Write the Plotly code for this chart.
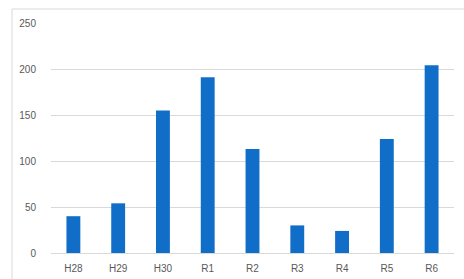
import plotly.graph_objects as go

categories = ["H28", "H29", "H30", "R1", "R2", "R3", "R4", "R5", "R6"]
values = [40, 54, 155, 191, 113, 30, 24, 124, 204]
y_ticks = [0, 50, 100, 150, 200, 250]

fig = go.Figure(go.Bar(x=categories, y=values, marker=dict(color="#116EC8", line=dict(width=0))))

fig.update_layout(
    width=464, height=279,
    margin=dict(l=51, r=10, t=23, b=26),
    paper_bgcolor="white", plot_bgcolor="white",
    bargap=0.69,
    showlegend=False,
    font=dict(family="Liberation Sans", size=10, color="#595959"),
    xaxis=dict(showgrid=False, showline=True, linecolor="#d9d9d9", linewidth=1, ticks="",
               automargin=False, tickfont=dict(size=10, color="#595959"), ticklabelstandoff=6),
    yaxis=dict(range=[0, 250], tickvals=y_ticks, showgrid=True, gridcolor="#d9d9d9", gridwidth=1,
               automargin=False, zeroline=False, showline=False, ticks="", ticklabelstandoff=14,
               tickfont=dict(size=10, color="#595959")),
    shapes=[dict(type="rect", xref="paper", yref="paper", x0=(12 - 51) / 403, x1=1.2,
                 y0=-0.3, y1=1 + (23 - 9) / 230, line=dict(color="#d9d9d9", width=1),
                 fillcolor="rgba(0,0,0,0)", layer="below")],
)

fig.write_html("out.html", config={"displayModeBar": False},
               post_script="document.body.style.margin='0';document.body.style.overflow='hidden';")
